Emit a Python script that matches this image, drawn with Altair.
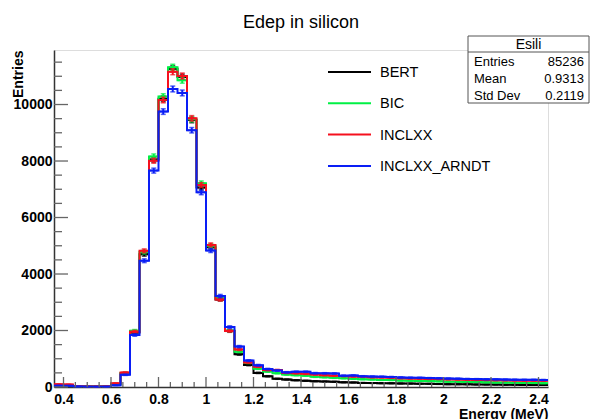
import math
import altair as alt
import pandas as pd

# ---------------- data ----------------
FIRST_EDGE = 0.36
BIN_WIDTH = 0.04
N_BINS = 52

SERIES = ["BERT", "BIC", "INCLXX", "INCLXX_ARNDT"]
COLORS = ["#000000", "#00f044", "#f5101e", "#0a1ef5"]

bert = [60, 55, 20, 15, 12, 15, 90, 480, 1930, 4700, 8050, 10200, 11270, 10970,
        9450, 7060, 4950, 3100, 1980, 1160, 780, 500, 380, 290, 265, 240, 220,
        205, 195, 185, 165, 160, 145, 140, 135, 130, 125, 120, 115, 112, 105,
        100, 98, 95, 90, 88, 85, 80, 78, 75, 72, 70]
bic = [70, 60, 20, 15, 12, 15, 100, 500, 1990, 4780, 8160, 10280, 11320, 10860,
       9480, 7210, 5000, 3150, 2000, 1250, 860, 650, 545, 490, 440, 420, 400,
       360, 345, 325, 310, 290, 275, 265, 250, 245, 230, 225, 215, 210, 200,
       190, 185, 180, 175, 165, 160, 155, 150, 145, 140, 135]
inclxx = [95, 90, 25, 18, 15, 20, 130, 510, 1960, 4820, 8010, 10160, 11160, 11010,
          9510, 7150, 5030, 3100, 1985, 1330, 870, 720, 600, 600, 500, 485, 465,
          440, 420, 400, 385, 370, 360, 345, 340, 325, 310, 300, 295, 285, 280,
          270, 265, 255, 250, 245, 240, 235, 230, 225, 225, 220]
arndt = [45, 40, 15, 12, 10, 12, 60, 430, 1840, 4470, 7660, 9750, 10550, 10410,
         9090, 6890, 4830, 3220, 2120, 1430, 935, 770, 635, 580, 520, 540, 540,
         490, 485, 480, 400, 410, 380, 370, 365, 355, 340, 330, 325, 315, 310,
         300, 295, 285, 280, 275, 270, 265, 260, 255, 255, 250]
VALUES = [bert, bic, inclxx, arndt]

X_MAJOR = [0.4, 0.6, 0.8, 1.0, 1.2, 1.4, 1.6, 1.8, 2.0, 2.2, 2.4]
Y_MAJOR = [0, 2000, 4000, 6000, 8000, 10000]
X_DOMAIN = [0.36, 2.44]
Y_DOMAIN = [0, 11930]

TITLE = "Edep in silicon"
STAT_TITLE = "Esili"
STAT_LABELS = ["Entries", "Mean", "Std Dev"]
STAT_VALUES = ["85236", "0.9313", "0.2119"]

FONT = "Liberation Sans"
W, H = 494, 337

# ---------------- scales / axes ----------------
xs = alt.Scale(domain=X_DOMAIN, nice=False, zero=False)
ys = alt.Scale(domain=Y_DOMAIN, nice=False, zero=False)

x_axis = alt.Axis(values=X_MAJOR, format="~g", ticks=False, grid=False,
                  labelFont=FONT, labelFontSize=14, labelFontWeight="bold",
                  labelColor="black", labelPadding=5, labelFlush=False,
                  domainColor="#333", domainWidth=1.5,
                  title="Energy (MeV)", titleFont=FONT, titleFontSize=14,
                  titleFontWeight="bold", titleColor="black",
                  titleAnchor="end", titleAlign="right", titleBaseline="alphabetic",
                  titleX=W, titleY=31)
y_axis = alt.Axis(values=Y_MAJOR, format="d", ticks=False, grid=False,
                  labelFont=FONT, labelFontSize=14, labelFontWeight="bold",
                  labelColor="black", labelPadding=2, labelFlush=False,
                  domainColor="#333", domainWidth=1.5,
                  title="Entries", titleFont=FONT, titleFontSize=14,
                  titleFontWeight="bold", titleColor="black",
                  titleAngle=270, titleAlign="right", titleBaseline="alphabetic",
                  titleX=-32, titleY=0)

edges = [round(FIRST_EDGE + i * BIN_WIDTH, 4) for i in range(N_BINS + 1)]
centers = [round(e + BIN_WIDTH / 2, 4) for e in edges[:-1]]

layers = []
for k, (name, color, vals) in enumerate(zip(SERIES, COLORS, VALUES)):
    step_df = pd.DataFrame({"x": edges, "y": vals + [vals[-1]]})
    err_df = pd.DataFrame({
        "c": centers,
        "v": vals,
        "lo": [v - math.sqrt(v) for v in vals],
        "hi": [v + math.sqrt(v) for v in vals],
    })
    line = alt.Chart(step_df).mark_line(
        interpolate="step-after", strokeWidth=2, color=color, clip=True
    ).encode(
        x=alt.X("x:Q", scale=xs, axis=x_axis),
        y=alt.Y("y:Q", scale=ys, axis=y_axis),
    )
    base = alt.Chart(err_df)
    bar = base.mark_rule(color=color, strokeWidth=2).encode(
        x=alt.X("c:Q", scale=xs, axis=x_axis),
        y=alt.Y("lo:Q", scale=ys, axis=y_axis),
        y2="hi:Q",
    )
    mid = base.mark_tick(orient="horizontal", size=9, thickness=2, color=color).encode(
        x=alt.X("c:Q", scale=xs, axis=x_axis),
        y=alt.Y("v:Q", scale=ys, axis=y_axis),
    )
    cap_lo = base.mark_tick(orient="horizontal", size=5, thickness=1.5, color=color).encode(
        x=alt.X("c:Q", scale=xs, axis=x_axis),
        y=alt.Y("lo:Q", scale=ys, axis=y_axis),
    )
    cap_hi = base.mark_tick(orient="horizontal", size=5, thickness=1.5, color=color).encode(
        x=alt.X("c:Q", scale=xs, axis=x_axis),
        y=alt.Y("hi:Q", scale=ys, axis=y_axis),
    )
    layers += [line, bar, mid, cap_lo, cap_hi]

# inward tick marks (ROOT style)
x_minor = [round(0.4 + 0.05 * i, 3) for i in range(41)]
x_minor = [t for t in x_minor if all(abs(t - m) > 1e-6 for m in X_MAJOR)]
y_minor = [500 * i for i in range(24) if (500 * i) % 2000 != 0]

tick_color = "#666"
layers.append(alt.Chart(pd.DataFrame({"t": X_MAJOR})).mark_rule(color=tick_color, strokeWidth=1.3).encode(
    x=alt.X("t:Q", scale=xs, axis=x_axis), y=alt.value(H), y2=alt.value(H - 10)))
layers.append(alt.Chart(pd.DataFrame({"t": x_minor})).mark_rule(color=tick_color, strokeWidth=1.3).encode(
    x=alt.X("t:Q", scale=xs, axis=x_axis), y=alt.value(H), y2=alt.value(H - 5)))
layers.append(alt.Chart(pd.DataFrame({"t": Y_MAJOR})).mark_rule(color=tick_color, strokeWidth=1.3).encode(
    y=alt.Y("t:Q", scale=ys, axis=y_axis), x=alt.value(0), x2=alt.value(14)))
layers.append(alt.Chart(pd.DataFrame({"t": y_minor})).mark_rule(color=tick_color, strokeWidth=1.3).encode(
    y=alt.Y("t:Q", scale=ys, axis=y_axis), x=alt.value(0), x2=alt.value(8)))

# ---------------- title ----------------
layers.append(alt.Chart(pd.DataFrame({"t": [TITLE]})).mark_text(
    align="center", baseline="alphabetic", font=FONT, fontSize=18, color="black"
).encode(x=alt.value(W / 2), y=alt.value(-22), text="t:N"))

# ---------------- legend ----------------
for i, (name, color) in enumerate(zip(SERIES, COLORS)):
    row_y = 22 + i * 31.3
    d = pd.DataFrame({"series": [name]})
    layers.append(alt.Chart(d).mark_rule(strokeWidth=2, color=color).encode(
        x=alt.value(274), x2=alt.value(317), y=alt.value(row_y)))
    layers.append(alt.Chart(d).mark_text(
        align="left", baseline="middle", dy=1, font=FONT, fontSize=14.5, color="black"
    ).encode(x=alt.value(326), y=alt.value(row_y), text="series:N"))

# ---------------- stats box ----------------
BOX_L, BOX_R = 414, 535
one = pd.DataFrame({"title": [STAT_TITLE]})
layers.append(alt.Chart(one).mark_rect(fill="white", stroke="#555", strokeWidth=1).encode(
    x=alt.value(BOX_L), x2=alt.value(BOX_R), y=alt.value(-14), y2=alt.value(53)))
layers.append(alt.Chart(one).mark_rule(color="#555", strokeWidth=1).encode(
    x=alt.value(BOX_L), x2=alt.value(BOX_R), y=alt.value(2)))
layers.append(alt.Chart(one).mark_text(
    align="center", baseline="middle", font=FONT, fontSize=14, color="black"
).encode(x=alt.value((BOX_L + BOX_R) / 2), y=alt.value(-5), text="title:N"))
for i, (lab, val) in enumerate(zip(STAT_LABELS, STAT_VALUES)):
    d = pd.DataFrame({"label": [lab], "value": [val]})
    row_y = 12 + i * 17
    layers.append(alt.Chart(d).mark_text(
        align="left", baseline="middle", font=FONT, fontSize=13, color="black"
    ).encode(x=alt.value(BOX_L + 6), y=alt.value(row_y), text="label:N"))
    layers.append(alt.Chart(d).mark_text(
        align="right", baseline="middle", font=FONT, fontSize=13, color="black"
    ).encode(x=alt.value(BOX_R - 5), y=alt.value(row_y), text="value:N"))

chart = alt.layer(*layers).properties(
    width=W, height=H,
    padding={"left": 46, "top": 42, "right": 42, "bottom": 32},
    autosize=alt.AutoSizeParams(type="none"),
).configure_view(stroke="#444", strokeWidth=1).configure(background="white")

chart.save("out.html", embed_options={"renderer": "svg", "actions": False})
